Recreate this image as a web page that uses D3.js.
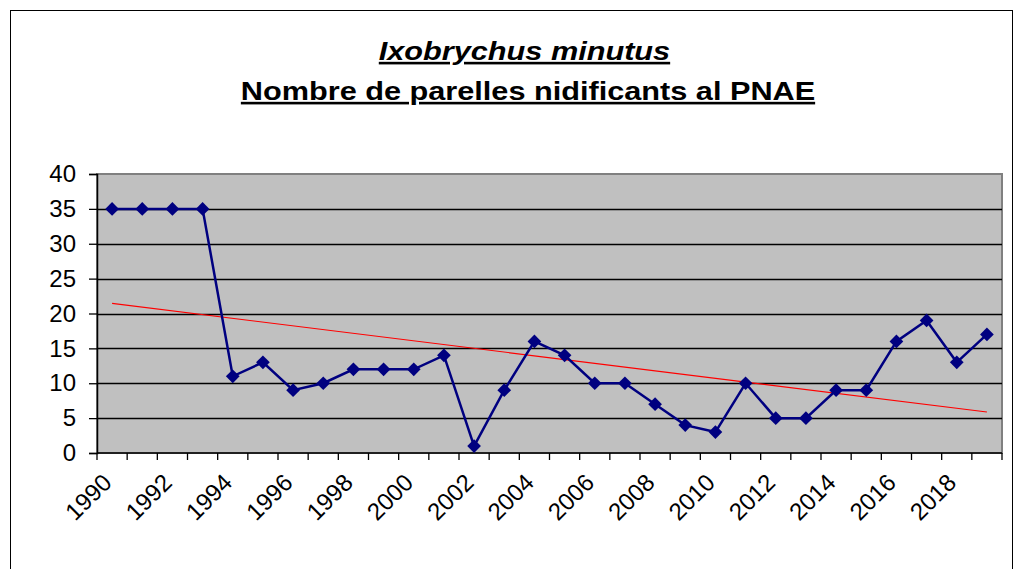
<!DOCTYPE html>
<html>
<head>
<meta charset="utf-8">
<script src="https://cdn.jsdelivr.net/npm/d3@7"></script>
<style>
  body { margin: 0; background: #fff; }
  svg { display: block; font-family: "Liberation Sans", Arial, sans-serif; }
</style>
</head>
<body>
<svg id="chart"></svg>
<script>
const years = d3.range(1990, 2020);
const pairs = [35, 35, 35, 35, 11, 13, 9, 10, 12, 12, 12, 14, 1, 9, 16, 14, 10, 10, 7, 4, 3, 10, 5, 5, 9, 9, 16, 19, 13, 17];
const yTicks = [0, 5, 10, 15, 20, 25, 30, 35, 40];
const yearLabels = years.filter(y => y % 2 === 0);

const width = 1019, height = 569;
const margin = { top: 174, right: 17, bottom: 116, left: 97 };

const svg = d3.select("#chart")
    .attr("width", width)
    .attr("height", height);

// chart frame
svg.append("rect")
    .attr("x", 10.5).attr("y", 10.5)
    .attr("width", 1002).attr("height", 600)
    .attr("fill", "#fff")
    .attr("stroke", "#000")
    .attr("stroke-width", 1);

const x = d3.scaleBand()
    .domain(years)
    .range([margin.left, width - margin.right]);

const y = d3.scaleLinear()
    .domain([0, 40])
    .range([height - margin.bottom, margin.top]);

const pw = width - margin.right - margin.left;
const ph = height - margin.bottom - margin.top;

// plot area
svg.append("rect")
    .attr("x", margin.left).attr("y", margin.top)
    .attr("width", pw).attr("height", ph)
    .attr("fill", "#c0c0c0")
    .attr("stroke", "#808080")
    .attr("stroke-width", 2);

// gridlines
svg.append("g")
    .selectAll("line")
    .data(yTicks.filter(d => d > 0 && d < 40))
    .join("line")
    .attr("x1", margin.left).attr("x2", width - margin.right)
    .attr("y1", d => Math.round(y(d)) + 0.5)
    .attr("y2", d => Math.round(y(d)) + 0.5)
    .attr("stroke", "#000")
    .attr("stroke-width", 1.3);

// y axis
const yAxis = svg.append("g")
    .attr("transform", `translate(${margin.left},0)`)
    .call(d3.axisLeft(y).tickValues(yTicks).tickSize(8).tickPadding(13));
yAxis.select(".domain").attr("stroke", "#000").attr("stroke-width", 1.5);
yAxis.selectAll(".tick line").attr("stroke", "#000").attr("stroke-width", 1.3);
yAxis.selectAll("text")
    .attr("font-size", 24)
    .attr("fill", "#000")
    .attr("font-family", "Liberation Sans, Arial, sans-serif");

// x axis: ticks at category boundaries
const xAxisG = svg.append("g")
    .attr("transform", `translate(0,${height - margin.bottom})`);
xAxisG.append("line")
    .attr("x1", margin.left).attr("x2", width - margin.right)
    .attr("stroke", "#000").attr("stroke-width", 1.5);
xAxisG.selectAll(".bt")
    .data(years.concat([2020]))
    .join("line")
    .attr("class", "bt")
    .attr("x1", d => d === 2020 ? width - margin.right : x(d))
    .attr("x2", d => d === 2020 ? width - margin.right : x(d))
    .attr("y1", 0).attr("y2", 7)
    .attr("stroke", "#000").attr("stroke-width", 1.3);

xAxisG.selectAll(".yl")
    .data(yearLabels)
    .join("text")
    .attr("class", "yl")
    .attr("text-anchor", "end")
    .attr("font-size", 24)
    .attr("fill", "#000")
    .attr("transform", d => `translate(${x(d) + x.bandwidth() / 2 + 1},${31}) rotate(-45)`)
    .text(d => d);

// trend line (least squares, like the Excel trendline)
const idx = years.map((d, i) => i);
const mx = d3.mean(idx), my = d3.mean(pairs);
const slope = d3.sum(idx, i => (i - mx) * (pairs[i] - my)) / d3.sum(idx, i => (i - mx) * (i - mx));
const icpt = my - slope * mx;
const cx = d => x(d) + x.bandwidth() / 2;

svg.append("line")
    .attr("x1", cx(years[0])).attr("y1", y(icpt))
    .attr("x2", cx(years[years.length - 1])).attr("y2", y(icpt + slope * (years.length - 1)))
    .attr("stroke", "#ff0000")
    .attr("stroke-width", 1.2);

// data line
const line = d3.line()
    .x((d, i) => cx(years[i]))
    .y(d => y(d));

svg.append("path")
    .datum(pairs)
    .attr("d", line)
    .attr("fill", "none")
    .attr("stroke", "#000080")
    .attr("stroke-width", 2.5);

svg.append("g")
    .selectAll("path")
    .data(pairs)
    .join("path")
    .attr("d", d3.symbol().type(d3.symbolDiamond2).size(120))
    .attr("transform", (d, i) => `translate(${cx(years[i])},${y(d)})`)
    .attr("fill", "#000080");

// title (the original font renders wider, hence the horizontal stretch)
const title = svg.append("text")
    .attr("transform", "translate(528,0) scale(1.18,1)")
    .attr("text-anchor", "middle")
    .attr("font-weight", "bold")
    .attr("font-size", 26)
    .attr("fill", "#000")
    .attr("text-decoration", "underline");
title.append("tspan")
    .attr("x", -3).attr("y", 60)
    .attr("font-style", "italic")
    .text("Ixobrychus minutus");
title.append("tspan")
    .attr("x", 0).attr("y", 100)
    .text("Nombre de parelles nidificants al PNAE");
</script>
</body>
</html>
